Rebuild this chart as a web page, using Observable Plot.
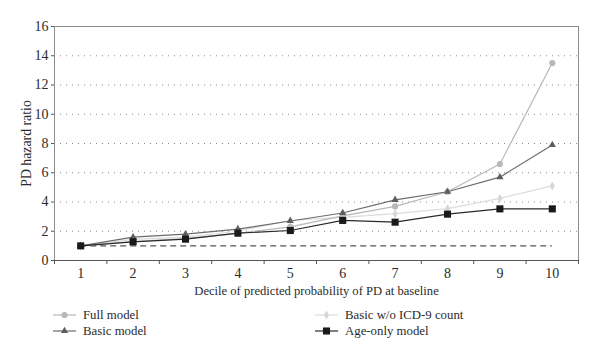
<!DOCTYPE html>
<html>
<head>
<meta charset="utf-8">
<script src="https://cdn.jsdelivr.net/npm/d3@7"></script>
<script src="https://cdn.jsdelivr.net/npm/@observablehq/plot@0.6"></script>
<style>
  body { margin: 0; background: #fff; font-family: "Liberation Serif", serif; }
  #chart { width: 600px; }
  .legend { position: relative; width: 600px; height: 54px; font-size: 12.8px; color: #2b2b2b; font-family: "Liberation Serif", serif; }
  .item { position: absolute; display: flex; align-items: center; height: 16px; }
  .item svg { margin-right: 7px; }
</style>
</head>
<body>
<div id="chart"></div>
<script>
const deciles = [1, 2, 3, 4, 5, 6, 7, 8, 9, 10];
const fullModel  = [1, 1.30, 1.50, 1.85, 2.30, 3.05, 3.70, 4.70, 6.60, 13.5];
const basicModel = [1, 1.60, 1.80, 2.15, 2.70, 3.25, 4.15, 4.70, 5.70, 7.90];
const basicNoICD = [1, 1.45, 1.60, 2.00, 2.75, 2.95, 3.20, 3.55, 4.25, 5.10];
const ageOnly    = [1, 1.28, 1.46, 1.87, 2.05, 2.74, 2.62, 3.17, 3.53, 3.53];
const seriesNames = ["Full model", "Basic model", "Basic w/o ICD-9 count", "Age-only model"];
const yTicks = [0, 2, 4, 6, 8, 10, 12, 14, 16];
const gridValues = [2, 4, 6, 8, 10, 12, 14];
const referenceHR = 1;

const styles = {
  "Full model": {stroke: "#b8b8b8", fill: "#b8b8b8", symbol: "circle", r: 3.1},
  "Basic model": {stroke: "#6b6b6b", fill: "#5e5e5e", symbol: "triangle", r: 2.7},
  "Basic w/o ICD-9 count": {stroke: "#dcdcdc", fill: "#d6d6d6", symbol: "diamond", r: 2.7},
  "Age-only model": {stroke: "#2a2a2a", fill: "#1a1a1a", symbol: "square", r: 4.0}
};
const drawOrder = ["Basic w/o ICD-9 count", "Full model", "Basic model", "Age-only model"];
const valuesBy = {
  "Full model": fullModel, "Basic model": basicModel,
  "Basic w/o ICD-9 count": basicNoICD, "Age-only model": ageOnly
};
const rows = name => deciles.map((d, i) => ({decile: d, hr: valuesBy[name][i], series: name}));
const halfTicks = d3.range(0.5, 11, 1);
const serif = "'Liberation Serif', serif";

const marks = [
  Plot.gridY(gridValues, {stroke: "#8a8a8a", strokeOpacity: 1, strokeDasharray: "1,5", strokeWidth: 1}),
  Plot.ruleY([referenceHR], {x1: deciles[0], x2: deciles[deciles.length - 1], stroke: "#555", strokeDasharray: "6,4", strokeWidth: 1.1}),
  Plot.frame({stroke: "#8c8c8c"}),
  Plot.axisX(halfTicks, {tickSize: 4, tickFormat: () => "", stroke: "#555", label: null}),
  Plot.axisX(deciles, {tickSize: 0, tickPadding: 8, fontSize: 14, fill: "#2b2b2b", fontFamily: serif, label: null}),
  Plot.axisX([], {tickSize: 0, fontSize: 12.6, fill: "#2b2b2b", fontFamily: serif,
    label: "Decile of predicted probability of PD at baseline", labelAnchor: "center", labelArrow: "none", labelOffset: 34}),
  Plot.axisY(yTicks, {tickSize: 3, tickPadding: 3, fontSize: 14, fill: "#2b2b2b", stroke: "#555", fontFamily: serif, label: null}),
  Plot.axisY([], {tickSize: 0, fontSize: 13.8, fill: "#2b2b2b", fontFamily: serif,
    label: "PD hazard ratio", labelAnchor: "center", labelArrow: "none", labelOffset: 33}),
  Plot.ruleY([0], {stroke: "#555"})
];
for (const name of drawOrder) {
  const s = styles[name];
  marks.push(Plot.line(rows(name), {x: "decile", y: "hr", stroke: s.stroke, strokeWidth: 1.2}));
}
for (const name of drawOrder) {
  const s = styles[name];
  marks.push(Plot.dot(rows(name), {x: "decile", y: "hr", symbol: () => s.symbol, fill: s.fill, stroke: "none", r: s.r}));
}

const chart = Plot.plot({
  width: 600,
  height: 305,
  marginLeft: 54,
  marginTop: 26,
  marginRight: 22,
  marginBottom: 45,
  style: {fontFamily: serif, fontSize: "14px", color: "#2b2b2b", background: "#fff"},
  x: {domain: [0.5, 10.5], label: null},
  y: {domain: [0, 16], label: null},
  symbol: {type: "identity"},
  marks
});
document.getElementById("chart").appendChild(chart);

// Legend below
const legend = document.createElement("div");
legend.className = "legend";
const positions = [
  {left: 53, top: 2}, {left: 53, top: 18}, {left: 315, top: 2}, {left: 315, top: 18}
];
const sym = {
  circle: d3.symbolCircle, triangle: d3.symbolTriangle, diamond: d3.symbolDiamond, square: d3.symbolSquare
};
seriesNames.forEach((name, i) => {
  const s = styles[name];
  const item = document.createElement("div");
  item.className = "item";
  item.style.left = positions[i].left + "px";
  item.style.top = positions[i].top + "px";
  const area = Math.PI * s.r * s.r;
  const path = d3.symbol(sym[s.symbol], area)();
  item.innerHTML = `<svg width="23" height="14"><line x1="0" y1="7" x2="23" y2="7" stroke="${s.stroke}" stroke-width="1.2"/><path transform="translate(11.5,7)" d="${path}" fill="${s.fill}"/></svg><span>${name}</span>`;
  legend.appendChild(item);
});
document.body.appendChild(legend);
</script>
</body>
</html>
